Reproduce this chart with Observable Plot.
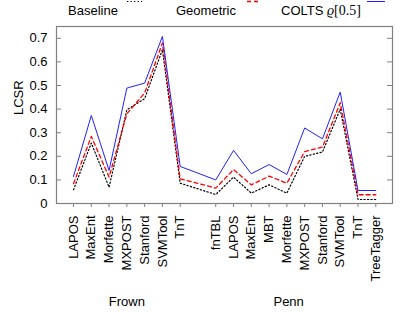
<!DOCTYPE html>
<html>
<head>
<meta charset="utf-8">
<script src="https://cdn.jsdelivr.net/npm/d3@7"></script>
<script src="https://cdn.jsdelivr.net/npm/@observablehq/plot@0.6"></script>
<style>
  html, body { margin: 0; padding: 0; background: #fff; }
  #wrap { position: relative; width: 415px; height: 312px; font-family: "Liberation Sans", Arial, sans-serif; }
  #wrap svg { position: absolute; left: 0; top: 0; }
  .lg { position: absolute; top: 3px; font-size: 13px; line-height: 16px; color: #000; white-space: nowrap; }
  .lgs { position: absolute; top: 10px; }
  .m { font-family: "Liberation Serif", "DejaVu Serif", serif; font-size: 14px; }
</style>
</head>
<body>
<div id="wrap"></div>
<script>
const frownModels = ["LAPOS","MaxEnt","Morfette","MXPOST","Stanford","SVMTool","TnT"];
const pennModels = ["fnTBL","LAPOS","MaxEnt","MBT","Morfette","MXPOST","Stanford","SVMTool","TnT","TreeTagger"];
const groupNames = ["Frown","Penn"];
const baselineFrown  = [0.058,0.256,0.069,0.397,0.444,0.652,0.086];
const geometricFrown = [0.084,0.284,0.112,0.380,0.468,0.680,0.105];
const coltsFrown     = [0.115,0.373,0.140,0.489,0.510,0.708,0.157];
const baselinePenn   = [0.038,0.112,0.044,0.079,0.044,0.200,0.218,0.400,0.017,0.017];
const geometricPenn  = [0.065,0.144,0.079,0.116,0.086,0.220,0.239,0.427,0.037,0.037];
const coltsPenn      = [0.100,0.225,0.126,0.165,0.123,0.320,0.274,0.472,0.055,0.055];
const yTicks = [0,0.1,0.2,0.3,0.4,0.5,0.6,0.7];
const seriesNames = ["Baseline","Geometric","COLTS"];

// slot indices: Frown 0..6, one empty slot, Penn 8..17
const slots = [];
frownModels.forEach((m,i)=>slots.push({idx:i, label:m, group:"Frown"}));
pennModels.forEach((m,i)=>slots.push({idx:frownModels.length+1+i, label:m, group:"Penn"}));
const labelOf = new Map(slots.map(s=>[s.idx,s.label]));

const valuesBySeries = {
  Baseline: baselineFrown.concat(baselinePenn),
  Geometric: geometricFrown.concat(geometricPenn),
  COLTS: coltsFrown.concat(coltsPenn)
};
const rows = [];
for (const s of seriesNames) valuesBySeries[s].forEach((v,i)=>rows.push({idx:slots[i].idx, series:s, value:v}));

const groupLabels = [{name:groupNames[0], x:3}, {name:groupNames[1], x:12.1}];

const styles = {
  Baseline: {stroke:"#000", strokeDasharray:"1.3,2.2", strokeWidth:1.2},
  Geometric: {stroke:"#ff0000", strokeDasharray:"4,3", strokeWidth:1.3},
  COLTS: {stroke:"#2020ff", strokeWidth:1}
};

const chart = Plot.plot({
  width: 415, height: 312,
  marginLeft: 56, marginRight: 23, marginTop: 26, marginBottom: 109,
  style: {fontFamily: "'Liberation Sans', Arial, sans-serif", fontSize: "13px", color: "#000", background: "transparent"},
  x: {type: "linear", domain: [-0.957, 17.94]},
  y: {domain: [0, 0.75]},
  marks: [
    Plot.frame({stroke: "#808080", strokeWidth: 1.2}),
    Plot.tickY(yTicks, {y: d=>d, stroke: "#808080", insetRight: 331}),
    Plot.tickY(yTicks, {y: d=>d, stroke: "#808080", insetLeft: 331}),
    Plot.axisY(yTicks, {tickSize: 0, tickPadding: 9, fontSize: 13, label: null, tickFormat: d => d === 0 ? "0" : d.toFixed(1)}),
    Plot.axisX(slots.map(s=>s.idx), {tickSize: 4, tickPadding: 8, tickRotate: -90, fontSize: 13, label: null, stroke: "#808080", tickFormat: i => labelOf.get(i), textStroke: "none"}),
    Plot.text(["LCSR"], {frameAnchor: "left", dx: -38, rotate: -90, fontSize: 13}),
    Plot.text(groupLabels, {x: "x", text: "name", frameAnchor: "bottom", dy: 102, fontSize: 13}),
    ...seriesNames.map(s => Plot.line(rows.filter(r=>r.series===s), {x: "idx", y: "value", ...styles[s]}))
  ]
});
const wrap = document.getElementById("wrap");
wrap.appendChild(chart);

// legend
function sample(left, width, st) {
  const ns = "http://www.w3.org/2000/svg";
  const svg = document.createElementNS(ns, "svg");
  svg.setAttribute("width", width); svg.setAttribute("height", 3);
  svg.setAttribute("class", "lgs");
  svg.style.left = left + "px";
  const ln = document.createElementNS(ns, "line");
  ln.setAttribute("x1", 0); ln.setAttribute("x2", width);
  ln.setAttribute("y1", 1.5); ln.setAttribute("y2", 1.5);
  ln.setAttribute("stroke", st.stroke);
  ln.setAttribute("stroke-width", st.strokeWidth);
  if (st.strokeDasharray) ln.setAttribute("stroke-dasharray", st.strokeDasharray);
  svg.appendChild(ln);
  wrap.appendChild(svg);
}
function label(left, html) {
  const d = document.createElement("div");
  d.className = "lg"; d.style.left = left + "px"; d.innerHTML = html;
  wrap.appendChild(d);
}
label(68, seriesNames[0]);
sample(127, 15, styles.Baseline);
label(176, seriesNames[1]);
sample(247, 13, styles.Geometric);
label(281, seriesNames[2] + ' <span class="m"><i>ϱ</i>[0.5]</span>');
sample(367, 18, styles.COLTS);
</script>
</body>
</html>
